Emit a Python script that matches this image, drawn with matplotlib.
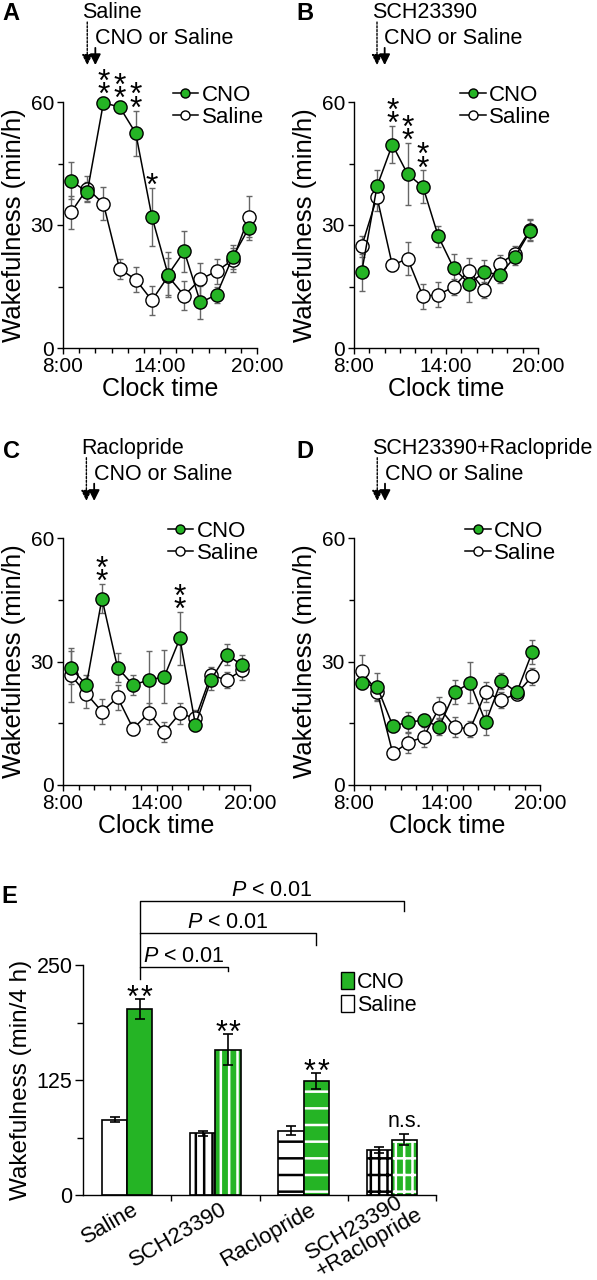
import numpy as np
import matplotlib.pyplot as plt
from matplotlib.lines import Line2D
from matplotlib.patches import Patch
import matplotlib.transforms as mtransforms

plt.rcParams['font.family'] = ['Liberation Sans', 'DejaVu Sans']
plt.rcParams['mathtext.fontset'] = 'custom'
plt.rcParams['mathtext.it'] = 'Liberation Sans:italic'
plt.rcParams['mathtext.rm'] = 'Liberation Sans'
plt.rcParams['hatch.linewidth'] = 1.8

GREEN = '#25b425'
ERR_GREY = '#666666'

# hourly bins (clock time, bin centres)
hours = [8.5, 9.5, 10.5, 11.5, 12.5, 13.5, 14.5, 15.5, 16.5, 17.5, 18.5, 19.5]

# A: Saline pretreatment
A_cno = [40.8, 38.0, 59.8, 58.8, 52.4, 32.0, 17.9, 23.6, 11.1, 13.0, 22.2, 29.3]
A_cno_err = [4.5, 2.5, 1.5, 1.5, 5.5, 7.0, 5.5, 5.0, 4.0, 2.0, 3.0, 3.0]
A_sal = [33.1, 38.9, 35.2, 19.3, 16.7, 11.6, 17.5, 12.8, 16.8, 18.7, 21.5, 32.0]
A_sal_err = [4.0, 3.0, 4.0, 2.5, 3.0, 3.5, 4.5, 3.5, 4.0, 3.0, 3.0, 5.0]

# B: SCH23390
B_cno = [18.5, 39.4, 49.6, 42.4, 39.3, 27.2, 19.5, 15.7, 18.5, 17.9, 22.2, 28.6]
B_cno_err = [4.5, 4.0, 4.5, 7.5, 4.0, 2.5, 3.5, 4.5, 3.0, 2.0, 2.0, 2.5]
B_sal = [24.8, 36.8, 20.2, 21.8, 12.6, 13.0, 14.9, 18.9, 14.1, 20.6, 23.0, 28.9]
B_sal_err = [2.5, 3.5, 1.5, 4.0, 3.0, 3.0, 2.0, 3.0, 2.0, 2.0, 2.0, 2.5]

# C: Raclopride
C_cno = [28.5, 24.3, 45.3, 28.5, 24.3, 25.5, 26.3, 35.6, 14.6, 25.6, 31.7, 29.1]
C_cno_err = [4.0, 2.5, 3.5, 3.5, 2.5, 7.0, 6.5, 6.5, 1.5, 2.5, 2.5, 2.5]
C_sal = [26.7, 22.2, 17.8, 21.3, 13.7, 17.4, 12.9, 17.4, 16.2, 26.7, 25.5, 27.9]
C_sal_err = [6.5, 3.5, 3.0, 3.0, 1.5, 2.5, 2.5, 2.5, 2.0, 2.0, 2.0, 2.5]

# D: SCH23390+Raclopride
D_cno = [24.8, 23.8, 14.4, 15.2, 15.8, 14.1, 22.6, 24.8, 15.2, 25.3, 22.5, 32.3]
D_cno_err = [1.5, 3.5, 1.5, 2.5, 1.5, 2.0, 3.0, 5.0, 3.0, 2.0, 1.5, 3.0]
D_sal = [27.6, 22.6, 7.7, 10.3, 11.7, 18.8, 14.1, 13.6, 22.6, 20.6, 22.2, 26.4]
D_sal_err = [4.0, 2.0, 1.5, 2.5, 2.5, 2.5, 2.5, 2.0, 2.5, 2.0, 1.5, 2.0]

# significance stars (hour -> number of stacked asterisks)
A_stars = {10.5: 2, 11.5: 2, 12.5: 2, 13.5: 1}
B_stars = {10.5: 2, 11.5: 2, 12.5: 2}
C_stars = {10.5: 2, 15.5: 2}
D_stars = {}

pretreatments = ['Saline', 'SCH23390', 'Raclopride', 'SCH23390+Raclopride']

# E: 4 h totals
groups = ['Saline', 'SCH23390', 'Raclopride', 'SCH23390\n+Raclopride']
saline_4h = [82, 67, 70, 49]
saline_4h_err = [3, 3, 5, 3]
cno_4h = [202, 158, 124, 60]
cno_4h_err = [11, 17, 9, 6]
cno_4h_marks = ['**', '**', '**', 'n.s.']
bracket_to = [1, 2, 3]
bracket_top = [248, 285, 320]
bracket_leg = [243, 272, 309]

fig = plt.figure(figsize=(5.97, 12.8), dpi=100)


def style_axes(ax):
    for s in ['top', 'right']:
        ax.spines[s].set_visible(False)
    for s in ['left', 'bottom']:
        ax.spines[s].set_linewidth(1.0)


def line_panel(rect, cno, cno_err, sal, sal_err, stars, pretreat, leg_x):
    ax = fig.add_axes(rect)
    style_axes(ax)
    ax.errorbar(hours, sal, yerr=sal_err, fmt='none', ecolor=ERR_GREY,
                elinewidth=1, capsize=2.5, capthick=1, zorder=2, clip_on=False)
    ax.errorbar(hours, cno, yerr=cno_err, fmt='none', ecolor=ERR_GREY,
                elinewidth=1, capsize=2.5, capthick=1, zorder=2, clip_on=False)
    ax.plot(hours, sal, '-o', color='black', lw=1.1, mfc='white', mec='black',
            mew=1, ms=9.5, zorder=3, clip_on=False)
    ax.plot(hours, cno, '-o', color='black', lw=1.1, mfc=GREEN, mec='black',
            mew=1, ms=9.5, zorder=4, clip_on=False)
    ax.set_xlim(8, 20)
    ax.set_ylim(0, 60)
    ax.set_xticks([8, 14, 20])
    ax.set_xticklabels(['8:00', '14:00', '20:00'])
    ax.set_xticks(range(8, 21), minor=True)
    ax.set_yticks([0, 30, 60])
    ax.set_yticks([15, 45], minor=True)
    ax.tick_params(which='major', length=4.5, width=1, labelsize=15, pad=2)
    ax.tick_params(which='minor', length=3.5, width=1)
    ax.set_xlabel('Clock time', fontsize=18, labelpad=1)
    ax.set_ylabel('Wakefulness (min/h)', fontsize=18.5, labelpad=3)

    # stacked asterisks above error bars
    for i, h in enumerate(hours):
        n = stars.get(h, 0)
        top = cno[i] + cno_err[i]
        for k in range(n):
            ax.annotate('*', (h, top), xytext=(0, -5 + 9.5 * k),
                        textcoords='offset points', ha='center',
                        va='baseline', fontsize=23, annotation_clip=False)

    # injection arrows and labels
    trans = ax.get_xaxis_transform()
    ax.annotate('', xy=(9.5, 1.15), xycoords=trans, xytext=(9.5, 1.325),
                textcoords=trans,
                arrowprops=dict(arrowstyle='-|>', ls=(0, (1.5, 1.2)), lw=1,
                                color='black', mutation_scale=16,
                                shrinkA=0, shrinkB=0))
    ax.annotate('', xy=(10.0, 1.15), xycoords=trans, xytext=(10.0, 1.22),
                textcoords=trans,
                arrowprops=dict(arrowstyle='-|>', lw=1.3, color='black',
                                mutation_scale=16, shrinkA=0, shrinkB=0))
    ax.text(9.15, 1.34, pretreat, transform=trans, ha='left',
            va='baseline', fontsize=15.5)
    ax.text(9.98, 1.236, 'CNO or Saline', transform=trans, ha='left',
            va='baseline', fontsize=15.5)

    handles = [Line2D([], [], color='black', lw=1.1, marker='o', ms=6.5,
                      mfc=GREEN, mec='black', mew=1),
               Line2D([], [], color='black', lw=1.1, marker='o', ms=6.5,
                      mfc='white', mec='black', mew=1)]
    ax.legend(handles, ['CNO', 'Saline'], loc='upper left',
              bbox_to_anchor=(leg_x, 1.07), frameon=False, fontsize=16,
              handlelength=1.15, handletextpad=0.15, labelspacing=0.05,
              borderpad=0, borderaxespad=0)
    return ax


H = 1280.0
W = 597.0
line_panel([63 / W, 1 - 348 / H, 194 / W, 246 / H], A_cno, A_cno_err,
           A_sal, A_sal_err, A_stars, pretreatments[0], 0.565)
line_panel([354 / W, 1 - 348 / H, 184 / W, 246 / H], B_cno, B_cno_err,
           B_sal, B_sal_err, B_stars, pretreatments[1], 0.576)
line_panel([63 / W, 1 - 785 / H, 187 / W, 247 / H], C_cno, C_cno_err,
           C_sal, C_sal_err, C_stars, pretreatments[2], 0.56)
line_panel([354 / W, 1 - 785 / H, 186 / W, 247 / H], D_cno, D_cno_err,
           D_sal, D_sal_err, D_stars, pretreatments[3], 0.597)

# Panel E
ax = fig.add_axes([83 / W, 1 - 1195 / H, 353 / W, 230 / H])
style_axes(ax)
x = np.arange(len(groups))
w = 0.285
hatches = ['', '||', '-', '||-']
for i in range(len(groups)):
    ax.bar(x[i] - w / 2, saline_4h[i], w, color='white', edgecolor='black',
           hatch=hatches[i], lw=1.2, zorder=2)
    ax.bar(x[i] + w / 2, cno_4h[i], w, color=GREEN, edgecolor='white',
           hatch=hatches[i], lw=0, zorder=2)
    ax.bar(x[i] + w / 2, cno_4h[i], w, fill=False, edgecolor='black',
           lw=1.2, zorder=3)
ax.errorbar(x - w / 2, saline_4h, yerr=saline_4h_err, fmt='none',
            ecolor='black', elinewidth=1.2, capsize=3.5, capthick=1.2, zorder=4)
ax.errorbar(x + w / 2, cno_4h, yerr=cno_4h_err, fmt='none',
            ecolor='black', elinewidth=1.2, capsize=3.5, capthick=1.2, zorder=4)

for i, mark in enumerate(cno_4h_marks):
    top = cno_4h[i] + cno_4h_err[i]
    if mark == 'n.s.':
        ax.annotate(mark, (x[i] + w / 2, top), xytext=(0, 5),
                    textcoords='offset points', ha='center', va='baseline',
                    fontsize=15.5)
    else:
        # two asterisks side by side with a small gap
        for dx in (-5, 5):
            ax.annotate(mark[0], (x[i] + w / 2, top), xytext=(dx, -6),
                        textcoords='offset points', ha='center',
                        va='baseline', fontsize=22)

prev = 235
for k, t, leg in zip(bracket_to, bracket_top, bracket_leg):
    x0 = x[0] + w / 2
    x1 = x[k] + w / 2
    ax.plot([x0, x0, x1, x1], [prev, t, t, leg], color='black', lw=1,
            clip_on=False)
    ax.annotate('$P$ < 0.01', ((x0 + x1) / 2, t), xytext=(0, 3.5),
                textcoords='offset points', ha='center', va='baseline',
                fontsize=15.5, annotation_clip=False)
    prev = t

ax.set_xlim(-0.5, 3.5)
ax.set_ylim(0, 250)
ax.set_yticks([0, 125, 250])
ax.set_yticks([62.5, 187.5], minor=True)
ax.set_xticks(x)
ax.set_xticklabels(groups, rotation=30, ha='right', rotation_mode='anchor')
ax.set_xticks([0.5, 1.5, 2.5, 3.5], minor=True)
ax.tick_params(axis='x', which='major', length=0, labelsize=16, pad=3)
ax.tick_params(axis='x', which='minor', length=4, width=1)
ax.tick_params(axis='y', which='major', length=6, width=1, labelsize=15.5, pad=1.5)
ax.tick_params(axis='y', which='minor', length=4, width=1)
for j, lbl in enumerate(ax.get_xticklabels()):
    # the two-line label sits a little higher and further right
    dx, dy = (5, 0) if '\n' not in groups[j] else (14, 13)
    off = mtransforms.ScaledTranslation(dx / 100, dy / 100, fig.dpi_scale_trans)
    lbl.set_transform(lbl.get_transform() + off)
    lbl.set_multialignment('left')
    lbl.set_linespacing(1.0)
ax.set_ylabel('Wakefulness (min/4 h)', fontsize=17.5, labelpad=3)

handles = [Patch(facecolor=GREEN, edgecolor='black', lw=1),
           Patch(facecolor='white', edgecolor='black', lw=1)]
ax.legend(handles, ['CNO', 'Saline'], loc='upper left',
          bbox_to_anchor=(0.73, 0.97), frameon=False, fontsize=15.5,
          handlelength=0.6, handleheight=0.8, handletextpad=0.15,
          labelspacing=0.1, borderpad=0, borderaxespad=0)

# panel letters
for letter, (px, py) in zip('ABCDE', [(2, 2), (296, 2), (3, 440), (296, 440), (1, 885)]):
    fig.text(px / W, 1 - py / H, letter, fontsize=17, fontweight='bold',
             ha='left', va='top')

fig.savefig('out.png', dpi=100)
